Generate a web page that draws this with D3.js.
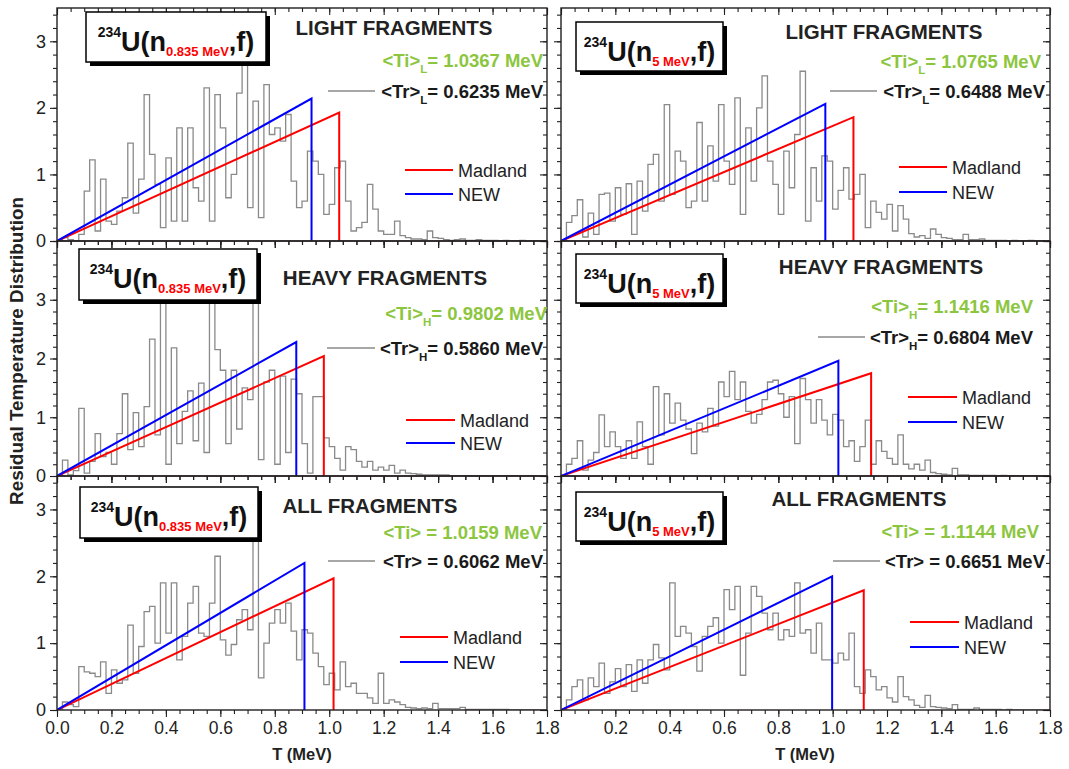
<!DOCTYPE html>
<html><head><meta charset="utf-8">
<script src="https://cdn.jsdelivr.net/npm/d3@7"></script>
<style>body{margin:0;background:#fff;} svg{display:block;font-family:"Liberation Sans",Arial,sans-serif;}</style>
</head><body><svg id="c" width="1069" height="769"></svg>
<script>
const binWidth = 0.02;
// residual temperature histograms, one value per 0.02 MeV bin starting at T = 0
const histLight0835 = [0,0.05,0.02,0,0.1, 0.75,1.22,0.15,0.93,0.3,
 0.25,0.45,0.65,1.47,0.42, 0.93,2.2,1.3,0.85,0.2,
 1.25,0.3,1.7,0.3,1.7, 0.8,0.6,2.3,0.3,2.2,
 1.7,0.65,1.0,2.22,2.65, 0.5,2.1,0.35,2.35,1.6,
 1.7,1.5,1.9,0.9,0.5, 0.6,1.35,1.2,1.0,0.4,
 0.55,1.1,1.2,0.6,0.15, 0.2,0.28,0.85,0.48,0.15,
 0.1,0.1,0.3,0.08,0.05, 0.03,0.03,0.02,0.15,0.05,
 0.04,0.02,0.01,0.02,0.03, 0.01,0.01,0.02,0.01,0.01,
 0.01,0,0.01,0,0, 0.01,0,0,0,0];
const histLight5 = [0,0.28,0.38,0.62,0.06, 0.42,0.1,0.7,0.72,0.3,
 0.8,0.4,0.86,0.1,0.9, 0.45,1.15,1.3,0.6,2.05,
 0.7,1.35,1.2,0.5,0.6, 1.78,0.6,1.43,0.9,2.05,
 1.2,0.85,2.15,0.4,1.7, 0.9,2.0,2.48,1.2,0.85,
 0.4,1.35,0.8,1.6,2.55, 0.3,1.1,0.6,1.28,1.2,
 0.48,0.76,1.1,0.63,0.7, 1.0,0.2,0.6,0.43,0.33,
 0.55,0.15,0.53,0.33,0.11, 0.06,0.08,0.04,0.18,0.1,
 0.05,0.04,0.02,0.02,0.1, 0.02,0.02,0.03,0.01,0.01,
 0.01,0.01,0,0.01,0, 0,0.01,0,0,0];
const histHeavy0835 = [0,0.27,0.02,0.09,1.15, 0.05,0.25,0.72,0.33,0.4,
 0.2,0.72,1.4,0.45,1.08, 0.5,1.18,2.33,0.7,3.3,
 0.2,2.18,0.55,1.1,1.45, 0.6,1.58,0.4,3.05,2.15,
 1.8,0.55,1.8,0.8,1.5, 1.3,3.3,0.28,1.6,1.8,
 0.2,1.7,0.4,1.65,1.4, 0.55,0.05,1.35,1.35,0.65,
 0.5,0.3,0.1,0.5,0.45, 0.25,0.15,0.25,0.1,0.15,
 0.1,0.18,0.05,0.1,0.05, 0.04,0.03,0.02,0.02,0.02,
 0.02,0.02,0,0,0, 0,0,0,0,0,
 0,0,0,0,0, 0,0,0,0,0];
const histHeavy5 = [0,0.2,0.3,0.6,0.1, 0.27,0.4,1.04,0.5,0.75,
 0.5,0.3,0.6,0.3,0.92, 0.5,0.2,1.52,0.7,1.4,
 0.9,1.24,0.95,0.8,0.38, 0.9,0.75,1.15,0.85,1.6,
 1.35,1.78,1.3,1.6,1.1, 0.9,1.05,1.3,1.6,1.63,
 1.4,1.0,1.35,0.55,1.66, 1.3,0.9,1.3,0.95,0.7,
 1.05,0.95,0.5,0.6,0.25, 0.5,0.95,0.2,0.6,0.42,
 0.3,0.2,0.7,0.2,0.12, 0.2,0.1,0.27,0.06,0.04,
 0.03,0.02,0.13,0.02,0.02, 0.01,0.01,0.01,0.01,0.01,
 0,0.01,0,0,0, 0,0,0,0,0];
const histAll0835 = [0,0.12,0.08,0.05,0.65, 0.57,0.55,0.5,0.72,0.25,
 0.6,0.4,0.45,1.27,0.55, 0.95,1.47,1.55,1.0,1.9,
 1.15,1.9,0.75,1.1,1.6, 1.85,1.15,1.1,1.6,2.3,
 1.05,0.82,0.98,1.35,1.5, 1.2,2.6,0.48,1.0,1.3,
 1.5,1.3,1.6,1.18,0.75, 1.2,1.15,0.85,0.65,0.38,
 0.55,0.3,0.72,0.35,0.4, 0.25,0.25,0.18,0.1,0.55,
 0.1,0.15,0.12,0.08,0.04, 0.03,0.02,0.03,0.02,0.1,
 0.02,0.02,0.02,0.02,0.04, 0.01,0.01,0.01,0.01,0.01,
 0.01,0.01,0.01,0,0, 0,0,0,0,0];
const histAll5 = [0,0.15,0.35,0.45,0.15, 0.48,0.35,0.7,0.25,0.42,
 0.62,0.35,0.68,0.28,0.75, 0.4,0.75,0.98,0.78,0.6,
 1.9,1.1,1.25,1.15,0.95, 0.58,1.1,1.25,1.38,1.0,
 1.8,1.5,1.85,0.52,1.15, 1.85,1.7,1.45,1.2,1.45,
 1.05,1.2,1.1,1.9,1.15, 1.2,0.85,1.3,0.75,0.75,
 0.7,0.85,0.75,1.15,0.35, 0.25,0.6,0.5,0.3,0.35,
 0.18,0.12,0.5,0.2,0.15, 0.07,0.04,0.22,0.05,0.04,
 0.03,0.02,0.08,0.01,0.01, 0.01,0.03,0.01,0.01,0.01,
 0.01,0,0.01,0,0, 0,0,0,0,0];

const fragmentTitles = ["LIGHT FRAGMENTS","LIGHT FRAGMENTS","HEAVY FRAGMENTS","HEAVY FRAGMENTS","ALL FRAGMENTS","ALL FRAGMENTS"];
const beamEnergies = ["0.835 MeV","5 MeV","0.835 MeV","5 MeV","0.835 MeV","5 MeV"];
const meanSubs = ["L","L","H","H","",""];
const tiValues = ["1.0367","1.0765","0.9802","1.1416","1.0159","1.1144"];
const trValues = ["0.6235","0.6488","0.5860","0.6804","0.6062","0.6651"];
const madlandTm = [1.0367,1.0765,0.9802,1.1416,1.0159,1.1144];
const madlandPeak = [1.93,1.86,2.04,1.75,1.97,1.79];
const newTm = [0.935,0.973,0.879,1.021,0.909,0.998];
const newPeak = [2.14,2.06,2.28,1.96,2.20,2.00];
const legendLabels = ["Madland","NEW"];
const yTickValues = [0,1,2,3,4];
const yTickLabels = ["0","1","2","3",""];
const xTickValues = [0,0.2,0.4,0.6,0.8,1.0,1.2,1.4,1.6,1.8];
const xTickLabels = ["0.0","0.2","0.4","0.6","0.8","1.0","1.2","1.4","1.6","1.8"];
const xTitle = "T (MeV)";
const yTitle = "Residual Temperature Distribution";

const histograms = [histLight0835,histLight5,histHeavy0835,histHeavy5,histAll0835,histAll5];

const GREEN = "#8cc63f", RED = "#ff0000", BLUE = "#0000ff", AX = "#231f20";
const cols = [{x0:57,x1:547},{x0:561,x1:1050}];
const rows = [{y0:8,y1:241,max:3.5},{y0:241,y1:476,max:4},{y0:476,y1:710,max:3.5}];
const layout = [
 {box:[86,12,180,50], title:[394,27], ti:[543,60], tr:[543,91,328,375], leg:[405,453,170,194]},
 {box:[576,22,147,49], title:[884,31], ti:[1041,61], tr:[1045,91,830,877], leg:[899,947,167,192]},
 {box:[79,249,178,51], title:[385,277], ti:[547,313], tr:[543,348,327,375], leg:[406,455,420,443]},
 {box:[576,254,147,49], title:[881,266], ti:[1033,306], tr:[1033,337,818,865], leg:[908,957,397,422]},
 {box:[80,487,178,51], title:[370,505], ti:[542,532], tr:[543,561,328,375], leg:[400,448,637,662]},
 {box:[576,492,147,49], title:[859,498], ti:[1039,531], tr:[1045,561,833,880], leg:[910,959,622,647]}
];

const svg = d3.select("#c");
const defs = svg.append("defs");

histograms.forEach((hist, p) => {
  const c = cols[p % 2], r = rows[Math.floor(p / 2)];
  const x = d3.scaleLinear().domain([0, 1.8]).range([c.x0, c.x1]);
  const y = d3.scaleLinear().domain([0, r.max]).range([r.y1, r.y0]);
  const g = svg.append("g");
  defs.append("clipPath").attr("id", "clip" + p).append("rect")
    .attr("x", c.x0).attr("y", r.y0).attr("width", c.x1 - c.x0).attr("height", r.y1 - r.y0);
  const plot = g.append("g").attr("clip-path", `url(#clip${p})`);

  const pts = hist.map((v, i) => [i * binWidth, v]);
  pts.push([hist.length * binWidth, hist[hist.length - 1]]);
  const line = d3.line().x(d => x(d[0])).y(d => y(d[1])).curve(d3.curveStepAfter);
  plot.append("path").attr("d", line(pts)).attr("fill", "none")
    .attr("stroke", "#8a8a8a").attr("stroke-width", 1.3);

  const straight = d3.line().x(d => x(d[0])).y(d => y(d[1]));
  plot.append("path").attr("d", straight([[0,0],[madlandTm[p],madlandPeak[p]],[madlandTm[p],0]]))
    .attr("fill","none").attr("stroke",RED).attr("stroke-width",2);
  plot.append("path").attr("d", straight([[0,0],[newTm[p],newPeak[p]],[newTm[p],0]]))
    .attr("fill","none").attr("stroke",BLUE).attr("stroke-width",2);

  const minorY = d3.range(0, r.max + 1e-6, 0.2);
  const majorY = yTickValues.filter(v => v <= r.max);
  const minorX = d3.range(0, 1.8 + 1e-6, 0.05);
  const styleAxis = sel => { sel.select(".domain").remove(); sel.selectAll("line").attr("stroke", AX).attr("stroke-width", 1.1); };
  g.append("g").attr("transform", `translate(${c.x0},0)`).call(d3.axisLeft(y).tickValues(minorY).tickSize(4).tickFormat("")).call(styleAxis);
  const yl = g.append("g").attr("transform", `translate(${c.x0},0)`)
    .call(d3.axisLeft(y).tickValues(majorY).tickSize(7).tickPadding(4)
      .tickFormat((d, i) => p % 2 === 0 ? yTickLabels[yTickValues.indexOf(d)] : ""))
    .call(styleAxis);
  yl.selectAll("text").attr("font-size", 18).attr("fill", "#222").attr("font-family", '"Liberation Sans",Arial,sans-serif');
  g.append("g").attr("transform", `translate(${c.x1},0)`).call(d3.axisLeft(y).tickValues(minorY).tickSize(4).tickFormat("")).call(styleAxis);
  g.append("g").attr("transform", `translate(${c.x1},0)`).call(d3.axisLeft(y).tickValues(majorY).tickSize(7).tickFormat("")).call(styleAxis);
  g.append("g").attr("transform", `translate(0,${r.y1})`).call(d3.axisBottom(x).tickValues(minorX).tickSize(4).tickFormat("")).call(styleAxis);
  const xl = g.append("g").attr("transform", `translate(0,${r.y1})`)
    .call(d3.axisBottom(x).tickValues(xTickValues).tickSize(7).tickPadding(5)
      .tickFormat((d, i) => (r === rows[2] && !(p % 2 === 1 && i === 0)) ? xTickLabels[i] : ""))
    .call(styleAxis);
  xl.selectAll("text").attr("font-size", 17.5).attr("fill", "#222").attr("font-family", '"Liberation Sans",Arial,sans-serif');
  g.append("g").attr("transform", `translate(0,${r.y0})`).call(d3.axisBottom(x).tickValues(minorX).tickSize(4).tickFormat("")).call(styleAxis);
  g.append("g").attr("transform", `translate(0,${r.y0})`).call(d3.axisBottom(x).tickValues(xTickValues).tickSize(7).tickFormat("")).call(styleAxis);

  g.append("rect").attr("x", c.x0).attr("y", r.y0).attr("width", c.x1 - c.x0).attr("height", r.y1 - r.y0)
    .attr("fill", "none").attr("stroke", AX).attr("stroke-width", 1.4);

  const L = layout[p];
  const [bx, by, bw, bh] = L.box;
  g.append("rect").attr("x", bx + 4).attr("y", by + 4).attr("width", bw).attr("height", bh).attr("fill", "#000");
  g.append("rect").attr("x", bx).attr("y", by).attr("width", bw).attr("height", bh).attr("fill", "#fff").attr("stroke", "#000").attr("stroke-width", 1.5);
  const bt = g.append("text").attr("x", bx + bw / 2).attr("y", by + 39).attr("text-anchor", "middle").attr("font-weight", "bold").attr("fill", "#111");
  bt.append("tspan").attr("font-size", 14).attr("dy", -14).text("234");
  bt.append("tspan").attr("font-size", 27).attr("dy", 14).text("U(n");
  bt.append("tspan").attr("font-size", 13).attr("fill", RED).attr("dy", 5).text(beamEnergies[p]);
  bt.append("tspan").attr("font-size", 27).attr("dy", -5).text(",f)");

  g.append("text").attr("x", L.title[0]).attr("y", L.title[1] + 7.5).attr("text-anchor", "middle")
    .attr("font-size", 20.5).attr("font-weight", "bold").attr("fill", "#222").text(fragmentTitles[p]);

  const meanText = (xe, yc, label, val, color) => {
    const t = g.append("text").attr("x", xe).attr("y", yc + 6.5).attr("text-anchor", "end")
      .attr("font-size", 18.5).attr("font-weight", "bold").attr("fill", color);
    t.append("tspan").text(label);
    if (meanSubs[p]) {
      t.append("tspan").attr("font-size", 11.5).attr("dy", 6).text(meanSubs[p]);
      t.append("tspan").attr("dy", -6).text("= " + val + " MeV");
    } else {
      t.append("tspan").text(" = " + val + " MeV");
    }
  };
  meanText(L.ti[0], L.ti[1], "<Ti>", tiValues[p], GREEN);
  meanText(L.tr[0], L.tr[1], "<Tr>", trValues[p], "#1a1a1a");
  g.append("line").attr("x1", L.tr[2]).attr("x2", L.tr[3]).attr("y1", L.tr[1]).attr("y2", L.tr[1])
    .attr("stroke", "#8a8a8a").attr("stroke-width", 1.3);

  const [lx1, lx2, ly1, ly2] = L.leg;
  [[ly1, RED, legendLabels[0]], [ly2, BLUE, legendLabels[1]]].forEach(([ly, col, lab]) => {
    g.append("line").attr("x1", lx1).attr("x2", lx2).attr("y1", ly).attr("y2", ly).attr("stroke", col).attr("stroke-width", 2);
    g.append("text").attr("x", lx2 + 5).attr("y", ly + 6.5).attr("font-size", 18).attr("fill", "#222").text(lab);
  });
});

[302, 805].forEach(cx => {
  svg.append("text").attr("x", cx).attr("y", 760).attr("text-anchor", "middle")
    .attr("font-size", 16.5).attr("font-weight", "bold").attr("fill", "#222").text(xTitle);
});
svg.append("text").attr("transform", "translate(23,351) rotate(-90)").attr("text-anchor", "middle")
  .attr("font-size", 18).attr("font-weight", "bold").attr("fill", "#222")
  .attr("textLength", 308).attr("lengthAdjust", "spacingAndGlyphs").text(yTitle);
</script></body></html>
